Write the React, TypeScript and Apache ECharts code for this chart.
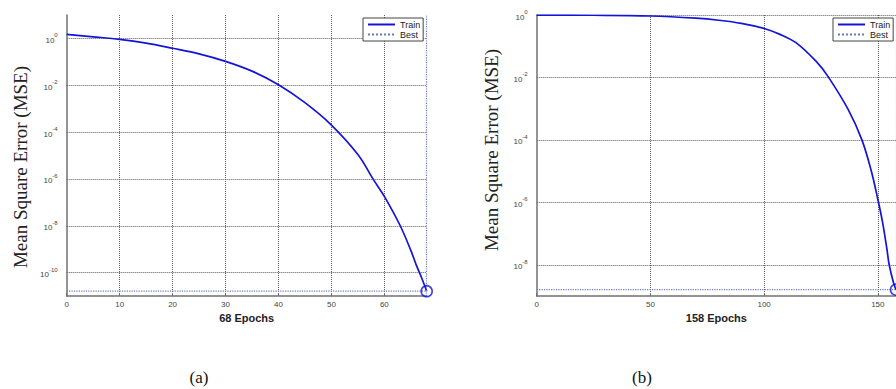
import React, { useEffect, useRef } from 'react';
import * as echarts from 'echarts';

// Panel (a): 68 epochs
const epochsA = [0, 5, 10, 15, 20, 25, 30, 35, 40, 45, 50, 55, 58, 60, 63, 65, 66, 67, 68];
const mseA = [1.48, 1.17, 0.91, 0.63, 0.38, 0.22, 0.105, 0.04, 0.0105, 1.8e-3, 2.0e-4, 1.1e-5, 8.9e-7, 1.8e-7, 1.0e-8, 8.9e-10, 2.2e-10, 6.3e-11, 1.6e-11];
const bestEpochA = 68;
const bestMseA = 1.6e-11;

// Panel (b): 158 epochs
const epochsB = [0, 25, 50, 70, 80, 90, 100, 107, 114, 123, 128, 137, 143, 147, 150, 152, 154, 155, 157, 158];
const mseB = [0.99, 0.98, 0.93, 0.79, 0.68, 0.54, 0.37, 0.24, 0.13, 0.032, 0.011, 9.3e-4, 1.0e-4, 1.1e-5, 1.26e-6, 2.5e-7, 3.2e-8, 1.0e-8, 2.5e-9, 1.6e-9];
const bestEpochB = 158;
const bestMseB = 1.6e-9;

const xTitles = ['68 Epochs', '158 Epochs'];
const yTitle = 'Mean Square Error (MSE)';
const panelLabels = ['(a)', '(b)'];
const legendNames = ['Train', 'Best'];

const TRAIN = '#1414d8';
const BEST = '#6a78c8';
const GRID = '#5a5a5a';
const AXIS = '#707070';
const SANS = 'Liberation Sans';
const SERIF = '"Liberation Serif"';

const tickFormatter = (v: number) => {
  if (Math.round(v) !== v || Math.abs(v % 2) !== 0) return '';
  return `{b|10}{e|${v}}`;
};
const tickRich = {
  b: { fontSize: 8, color: '#444', fontFamily: SANS, lineHeight: 12, verticalAlign: 'bottom' },
  e: { fontSize: 6, color: '#444', fontFamily: SANS, lineHeight: 12, verticalAlign: 'top' },
};

function xAxisCfg(gridIndex: number, max: number, interval: number, name: string) {
  return {
    gridIndex,
    type: 'value',
    min: 0,
    max,
    interval,
    name,
    nameLocation: 'middle',
    nameGap: 12,
    nameTextStyle: { fontWeight: 'bold', fontSize: 11, color: '#222', fontFamily: SANS, verticalAlign: 'top' },
    axisLine: { show: true, onZero: false, lineStyle: { color: AXIS, width: 1.5 } },
    axisTick: { show: true, inside: true, length: 3, lineStyle: { color: AXIS } },
    axisLabel: { fontSize: 8, color: '#444', margin: 4, fontFamily: SANS, showMaxLabel: false },
    splitLine: { show: true, showMinLine: false, showMaxLine: false, lineStyle: { type: 'dotted', color: GRID, width: 1 } },
  };
}

function logAxisCfg(gridIndex: number, min: number, max: number) {
  return {
    gridIndex,
    type: 'log',
    position: 'left',
    min,
    max,
    axisLine: { show: true, onZero: false, lineStyle: { color: AXIS, width: 1.5 } },
    axisTick: { show: false },
    axisLabel: { show: false },
    splitLine: { show: false },
  };
}

function expAxisCfg(gridIndex: number, min: number, max: number, splitNumber: number, showMaxLine: boolean) {
  return {
    gridIndex,
    type: 'value',
    position: 'left',
    min,
    max,
    splitNumber,
    axisLine: { show: false, onZero: false },
    axisTick: { show: false },
    axisLabel: { formatter: tickFormatter, rich: tickRich, margin: 9, showMinLabel: false },
    splitLine: { show: true, showMinLine: false, showMaxLine, lineStyle: { type: 'dotted', color: GRID, width: 1 } },
  };
}

function seriesFor(idx: number, epochs: number[], mse: number[], bestEpoch: number, bestMse: number) {
  const logAxis = idx * 2;
  return [
    {
      name: 'Train',
      type: 'line',
      xAxisIndex: idx,
      yAxisIndex: logAxis,
      data: epochs.map((e, i) => [e, mse[i]]),
      symbol: 'none',
      smooth: 0.35,
      lineStyle: { color: TRAIN, width: 1.7 },
      itemStyle: { color: TRAIN },
      z: 4,
    },
    {
      name: 'Best',
      type: 'line',
      xAxisIndex: idx,
      yAxisIndex: logAxis,
      data: [[0, bestMse], [bestEpoch, bestMse]],
      symbol: 'none',
      lineStyle: { color: BEST, width: 1.2, type: 'dotted' },
      itemStyle: { color: BEST },
      markLine: {
        symbol: 'none',
        silent: true,
        label: { show: false },
        lineStyle: { color: BEST, type: 'dotted', width: 1.2 },
        data: [{ xAxis: bestEpoch }],
      },
      z: 3,
    },
    {
      name: 'bestPoint' + idx,
      type: 'scatter',
      xAxisIndex: idx,
      yAxisIndex: logAxis,
      data: [[bestEpoch, bestMse]],
      symbol: 'circle',
      symbolSize: 11,
      itemStyle: { color: 'rgba(0,0,0,0)', borderColor: TRAIN, borderWidth: 1.6 },
      z: 5,
    },
  ];
}

function legendCfg(left: number) {
  return {
    left,
    top: 18,
    orient: 'vertical',
    data: legendNames,
    backgroundColor: '#fff',
    borderColor: '#444',
    borderWidth: 1,
    padding: [2, 3, 2, 4],
    itemGap: 1,
    itemWidth: 27,
    itemHeight: 9,
    itemStyle: { opacity: 0 },
    textStyle: { fontSize: 9, color: '#222', fontFamily: SANS },
    selectedMode: false,
  };
}

export default function App() {
  const ref = useRef<HTMLDivElement>(null);
  useEffect(() => {
    if (!ref.current) return;
    const chart = echarts.init(ref.current, undefined, { renderer: 'svg' });
    chart.setOption({
      animation: false,
      backgroundColor: '#fff',
      grid: [
        { left: 66.7, top: 15, width: 360, height: 281 },
        { left: 536.7, top: 15, width: 360.6, height: 281 },
      ],
      xAxis: [xAxisCfg(0, bestEpochA, 10, xTitles[0]), xAxisCfg(1, bestEpochB, 50, xTitles[1])],
      yAxis: [
        logAxisCfg(0, 1e-11, 10),
        expAxisCfg(0, -11, 1, 6, false),
        logAxisCfg(1, 1e-9, 1),
        expAxisCfg(1, -9, 0, 5, true),
      ],
      legend: [legendCfg(363), legendCfg(833)],
      series: [
        ...seriesFor(0, epochsA, mseA, bestEpochA, bestMseA),
        ...seriesFor(1, epochsB, mseB, bestEpochB, bestMseB),
      ],
      graphic: [
        {
          type: 'text', x: 20.7, y: 167, rotation: Math.PI / 2,
          style: { text: yTitle, font: `19px ${SERIF}`, fill: '#222', align: 'center', verticalAlign: 'middle' },
        },
        {
          type: 'text', x: 491.7, y: 150, rotation: Math.PI / 2,
          style: { text: yTitle, font: `19px ${SERIF}`, fill: '#222', align: 'center', verticalAlign: 'middle' },
        },
        {
          type: 'text', x: 199, y: 377,
          style: { text: panelLabels[0], font: `17px ${SERIF}`, fill: '#111', align: 'center', verticalAlign: 'middle' },
        },
        {
          type: 'text', x: 642, y: 377,
          style: { text: panelLabels[1], font: `17px ${SERIF}`, fill: '#111', align: 'center', verticalAlign: 'middle' },
        },
      ],
    });
    return () => chart.dispose();
  }, []);
  return <div ref={ref} style={{ position: 'absolute', left: 0, top: 0, width: 896, height: 389 }} />;
}
